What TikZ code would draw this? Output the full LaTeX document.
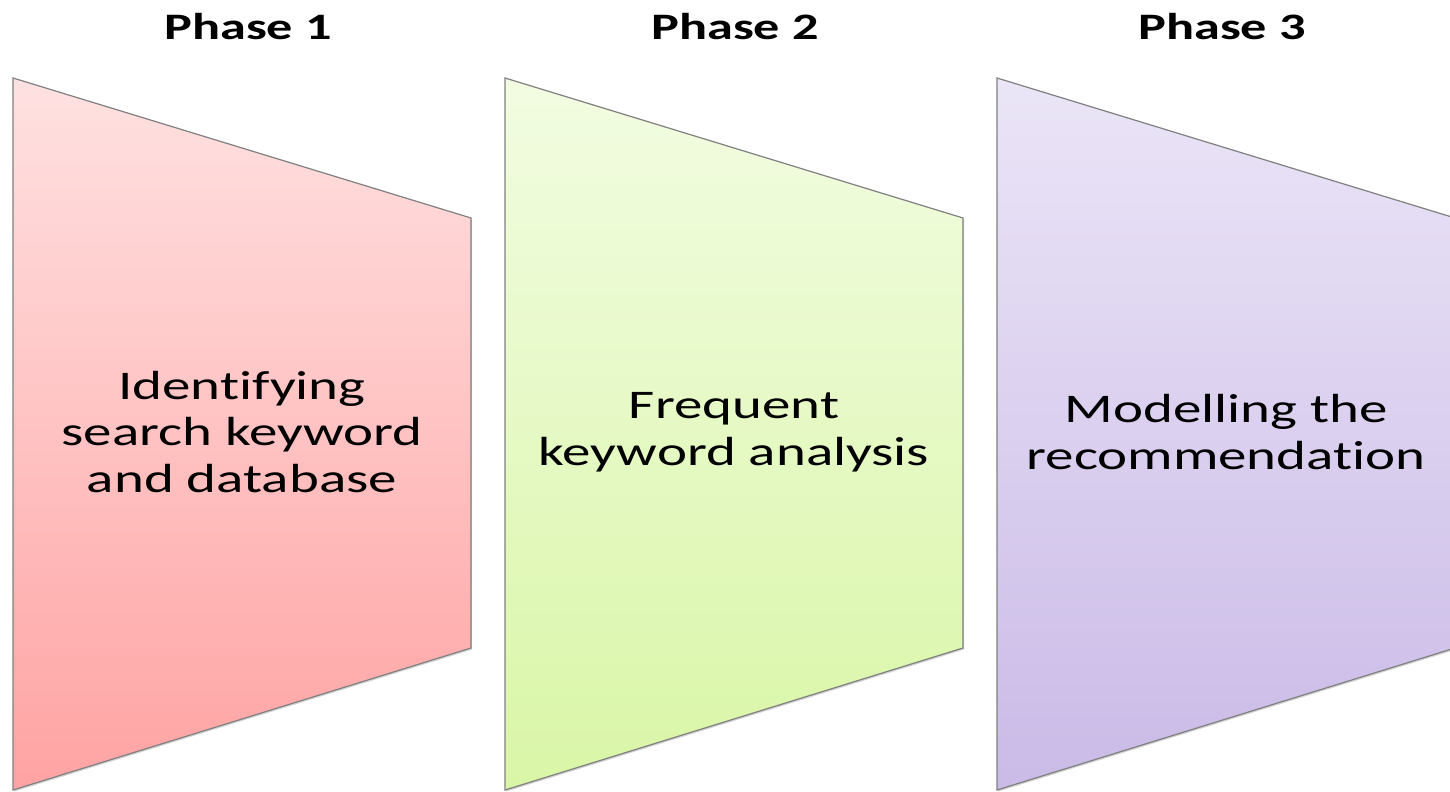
\documentclass[tikz,border=0pt]{standalone}
\usepackage{fontspec}
\setmainfont{Carlito}[FakeStretch=1.4, Ligatures={NoCommon}, Contextuals={NoAlternate}]
\usetikzlibrary{shadows}
\definecolor{redtop}{RGB}{255,225,225}
\definecolor{redbot}{RGB}{255,163,163}
\definecolor{greentop}{RGB}{242,252,226}
\definecolor{greenbot}{RGB}{217,246,166}
\definecolor{violettop}{RGB}{235,229,247}
\definecolor{violetbot}{RGB}{202,186,231}
\begin{document}
\begin{tikzpicture}[x=0.75pt,y=0.75pt,
  stage/.style={draw=black!50, line width=0.9pt,
    drop shadow={shadow xshift=0.8pt, shadow yshift=-1.2pt, opacity=0.35}},
  phasetitle/.style={font=\fontsize{28}{34}\selectfont\bfseries},
  stagetext/.style={align=center, font=\fontsize{30.5}{35}\selectfont}]
\clip (0,0) rectangle (1450,792);
% the three phases
\foreach \n/\x/\cx/\tx/\tc/\bc/\txt in {
  1/13/242/248/redtop/redbot/{Identifying\\search keyword\\and database},
  2/505/734/735/greentop/greenbot/{Frequent\\keyword analysis},
  3/997/1226/1222/violettop/violetbot/{Modelling the\\recommendation}}
{
  \path[stage, top color=\tc, bottom color=\bc]
    (\x,714) -- (\x+458,574) -- (\x+458,144) -- (\x,2) -- cycle;
  \node[phasetitle] (title\n) at (\tx,765) {Phase \n};
  \node[stagetext] (stage\n) at (\cx,360) {\txt};
}
\end{tikzpicture}
\end{document}
